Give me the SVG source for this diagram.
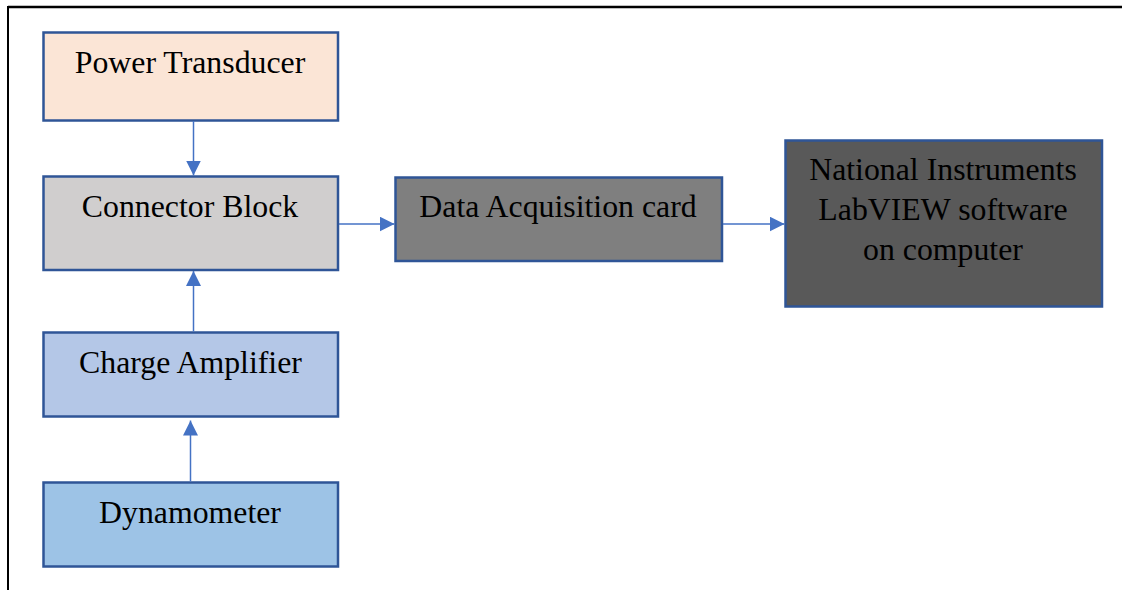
<svg xmlns="http://www.w3.org/2000/svg" width="1122" height="590" viewBox="0 0 1122 590">
<style>
.box{stroke:#2F5597;stroke-width:2.5}
.lbl{font-family:"Liberation Serif","Times New Roman",serif;font-size:31.8px;fill:#000;text-anchor:middle}
.con{stroke:#4472C4;stroke-width:1.5;fill:none;marker-end:url(#ah)}
</style>
<defs>
<marker id="ah" viewBox="0 0 10 10" refX="10" refY="5" markerWidth="15" markerHeight="15" markerUnits="userSpaceOnUse" orient="auto">
<path d="M0,0 L10,5 L0,10 z" fill="#4472C4"/>
</marker>
</defs>
<rect width="1122" height="590" fill="#fff"/>
<g id="frame">
<line x1="8" y1="7" x2="1122" y2="7" stroke="#000" stroke-width="2.5"/>
<line x1="8" y1="6" x2="8" y2="590" stroke="#000" stroke-width="2"/>
</g>
<g id="power-transducer">
<rect class="box" x="43.5" y="32.5" width="294.5" height="88" fill="#FBE5D6"/>
<text class="lbl" x="190" y="72.7">Power Transducer</text>
</g>
<g id="connector-block">
<rect class="box" x="43.5" y="176.5" width="294.5" height="93.5" fill="#D0CECE"/>
<text class="lbl" x="190" y="216.7">Connector Block</text>
</g>
<g id="charge-amplifier">
<rect class="box" x="43.5" y="332.5" width="294.5" height="84" fill="#B4C7E7"/>
<text class="lbl" x="190.5" y="372.7">Charge Amplifier</text>
</g>
<g id="dynamometer">
<rect class="box" x="43.5" y="482.5" width="294.5" height="84" fill="#9DC3E6"/>
<text class="lbl" x="190" y="522.7">Dynamometer</text>
</g>
<g id="daq-card">
<rect class="box" x="395.5" y="177.5" width="326.5" height="83.5" fill="#7F7F7F"/>
<text class="lbl" x="558" y="217.3">Data Acquisition card</text>
</g>
<g id="labview">
<rect class="box" x="785.5" y="140.5" width="316.5" height="166" fill="#595959"/>
<text class="lbl" x="943" y="180">National Instruments</text>
<text class="lbl" x="943" y="220">LabVIEW software</text>
<text class="lbl" x="943" y="260">on computer</text>
</g>
<g id="connectors">
<line class="con" x1="193.5" y1="121" x2="193.5" y2="175.5"/>
<line class="con" x1="193.5" y1="331.5" x2="193.5" y2="271"/>
<line class="con" x1="190.5" y1="481.5" x2="190.5" y2="420.5"/>
<line class="con" x1="339" y1="224" x2="394.5" y2="224"/>
<line class="con" x1="723" y1="224" x2="784.5" y2="224"/>
</g>
</svg>
